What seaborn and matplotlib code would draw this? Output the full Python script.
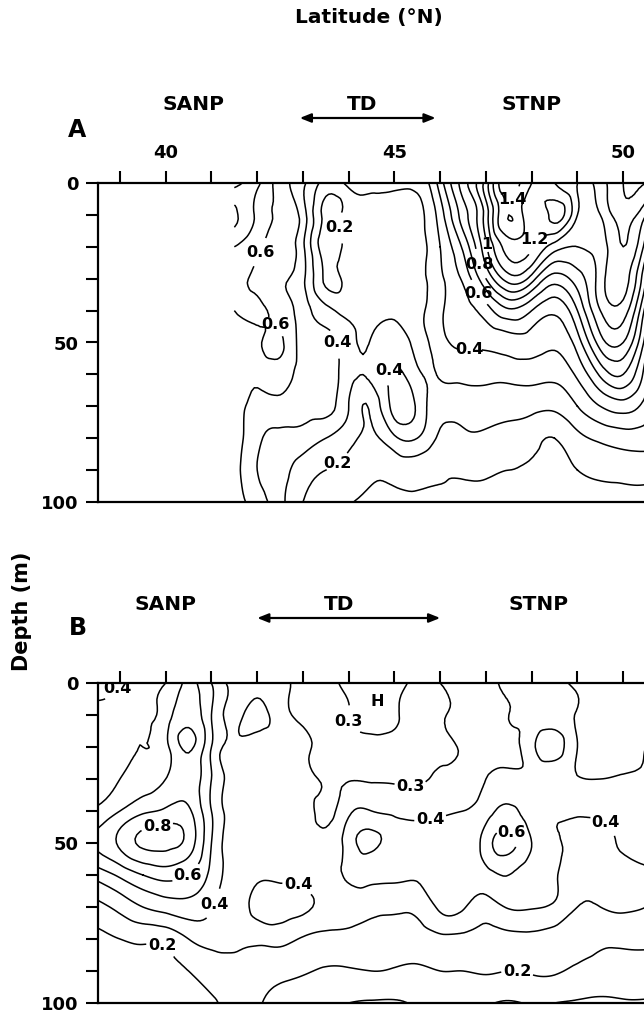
import numpy as np
import matplotlib
matplotlib.use("Agg")
import matplotlib.pyplot as plt
import matplotlib.tri as mtri
import seaborn as sns

# ---------------- data ----------------
depths = [0, 10, 20, 30, 40, 50, 60, 70, 80, 90, 100]

lat_a = [41.5, 42.0, 42.5, 43.0, 43.5, 44.0, 44.5, 45.0, 45.5, 46.0,
         46.5, 47.0, 47.5, 48.0, 48.5, 49.0, 49.5, 50.0, 50.5]
conc_a = [
    [0.65, 0.72, 0.55, 0.42, 0.26, 0.33, 0.34, 0.34, 0.33, 0.55, 0.85, 1.15, 1.48, 1.30, 1.20, 1.10, 1.15, 1.30, 1.30],
    [0.82, 0.68, 0.58, 0.45, 0.17, 0.25, 0.26, 0.26, 0.27, 0.45, 0.75, 1.05, 1.40, 1.22, 1.34, 1.10, 1.10, 1.25, 1.10],
    [0.70, 0.62, 0.55, 0.42, 0.15, 0.24, 0.25, 0.25, 0.26, 0.40, 0.62, 0.98, 1.25, 1.20, 1.05, 1.00, 1.05, 1.20, 0.95],
    [0.62, 0.58, 0.52, 0.42, 0.18, 0.25, 0.25, 0.25, 0.26, 0.38, 0.52, 0.80, 1.05, 0.95, 0.75, 0.85, 1.05, 1.15, 0.80],
    [0.60, 0.62, 0.56, 0.45, 0.33, 0.28, 0.26, 0.27, 0.27, 0.38, 0.47, 0.55, 0.68, 0.60, 0.52, 0.70, 1.00, 1.05, 0.65],
    [0.58, 0.58, 0.62, 0.46, 0.43, 0.34, 0.31, 0.37, 0.28, 0.36, 0.42, 0.42, 0.45, 0.45, 0.42, 0.55, 0.85, 0.90, 0.55],
    [0.58, 0.52, 0.55, 0.45, 0.44, 0.34, 0.32, 0.42, 0.32, 0.31, 0.33, 0.33, 0.33, 0.34, 0.33, 0.42, 0.62, 0.70, 0.45],
    [0.58, 0.46, 0.46, 0.43, 0.43, 0.30, 0.22, 0.44, 0.38, 0.24, 0.24, 0.25, 0.24, 0.23, 0.22, 0.30, 0.40, 0.45, 0.36],
    [0.56, 0.42, 0.38, 0.36, 0.30, 0.23, 0.18, 0.28, 0.30, 0.18, 0.18, 0.18, 0.16, 0.13, 0.10, 0.17, 0.22, 0.25, 0.25],
    [0.55, 0.40, 0.34, 0.25, 0.20, 0.17, 0.12, 0.13, 0.14, 0.11, 0.11, 0.11, 0.10, 0.09, 0.08, 0.10, 0.12, 0.13, 0.13],
    [0.55, 0.45, 0.33, 0.20, 0.16, 0.11, 0.08, 0.08, 0.08, 0.08, 0.09, 0.08, 0.09, 0.09, 0.07, 0.08, 0.07, 0.08, 0.09],
]

lat_b = [38.5, 39.0, 39.5, 40.0, 40.5, 41.0, 41.5, 42.0, 42.5, 43.0, 43.5, 44.0, 44.5,
         45.0, 45.5, 46.0, 46.5, 47.0, 47.5, 48.0, 48.5, 49.0, 49.5, 50.0, 50.5]
conc_b = [
    [0.38, 0.40, 0.45, 0.50, 0.62, 0.50, 0.36, 0.35, 0.33, 0.27, 0.27, 0.32, 0.34, 0.33, 0.28, 0.30, 0.35, 0.36, 0.42, 0.40, 0.42, 0.38, 0.36, 0.38, 0.37],
    [0.42, 0.44, 0.48, 0.55, 0.66, 0.50, 0.38, 0.42, 0.35, 0.27, 0.26, 0.30, 0.32, 0.31, 0.27, 0.29, 0.32, 0.36, 0.40, 0.42, 0.45, 0.39, 0.37, 0.38, 0.38],
    [0.44, 0.47, 0.50, 0.57, 0.72, 0.50, 0.37, 0.36, 0.34, 0.32, 0.27, 0.27, 0.28, 0.28, 0.27, 0.29, 0.31, 0.37, 0.38, 0.47, 0.55, 0.40, 0.38, 0.39, 0.40],
    [0.47, 0.50, 0.55, 0.60, 0.66, 0.50, 0.36, 0.35, 0.34, 0.34, 0.28, 0.29, 0.29, 0.29, 0.29, 0.31, 0.33, 0.40, 0.42, 0.42, 0.44, 0.41, 0.40, 0.41, 0.42],
    [0.52, 0.60, 0.68, 0.72, 0.72, 0.50, 0.36, 0.35, 0.35, 0.35, 0.27, 0.38, 0.40, 0.38, 0.37, 0.38, 0.40, 0.46, 0.52, 0.45, 0.42, 0.42, 0.42, 0.43, 0.43],
    [0.62, 0.72, 0.82, 0.83, 0.76, 0.50, 0.36, 0.36, 0.36, 0.36, 0.32, 0.45, 0.52, 0.45, 0.42, 0.43, 0.42, 0.55, 0.63, 0.50, 0.42, 0.36, 0.37, 0.41, 0.42],
    [0.44, 0.52, 0.60, 0.64, 0.60, 0.47, 0.36, 0.38, 0.38, 0.38, 0.36, 0.42, 0.43, 0.42, 0.41, 0.42, 0.41, 0.46, 0.50, 0.44, 0.41, 0.32, 0.33, 0.36, 0.38],
    [0.27, 0.33, 0.40, 0.44, 0.46, 0.41, 0.35, 0.43, 0.44, 0.42, 0.37, 0.35, 0.33, 0.32, 0.33, 0.42, 0.41, 0.36, 0.41, 0.41, 0.38, 0.30, 0.30, 0.32, 0.30],
    [0.17, 0.20, 0.22, 0.23, 0.30, 0.33, 0.32, 0.32, 0.33, 0.29, 0.27, 0.27, 0.26, 0.26, 0.26, 0.28, 0.28, 0.27, 0.28, 0.28, 0.27, 0.25, 0.22, 0.22, 0.22],
    [0.12, 0.13, 0.15, 0.17, 0.20, 0.25, 0.27, 0.25, 0.23, 0.21, 0.19, 0.19, 0.20, 0.19, 0.18, 0.20, 0.20, 0.21, 0.20, 0.21, 0.21, 0.18, 0.16, 0.16, 0.16],
    [0.11, 0.11, 0.12, 0.13, 0.15, 0.18, 0.24, 0.21, 0.17, 0.15, 0.12, 0.10, 0.09, 0.09, 0.11, 0.12, 0.12, 0.11, 0.09, 0.11, 0.10, 0.09, 0.08, 0.09, 0.09],
]

# contour levels: labelled and unlabelled sets
lab_levels_a = [0.2, 0.4, 0.6, 0.8, 1.0, 1.2, 1.4]
plain_levels_a = [0.1, 0.3, 0.5, 0.7, 0.9, 1.1, 1.3, 1.5]
lab_levels_b = [0.2, 0.3, 0.4, 0.6, 0.8]
plain_levels_b = [0.1, 0.5, 0.7, 0.9]

labels_a = [(43.7, 15), (42.0, 21), (42.4, 44), (43.8, 50), (45.0, 60),
            (46.65, 55), (43.86, 91), (47.55, 5), (47.1, 19), (47.9, 16),
            (46.8, 26), (46.7, 37)]
labels_b = [(39.05, 2.7), (39.86, 47.5), (40.49, 60.5), (41.3, 70.4),
            (39.95, 81), (42.83, 66), (44.0, 12), (45.35, 33.4), (45.8, 45.4),
            (47.47, 48), (49.86, 38.6), (47.7, 87.6)]

lat_ticks = [39, 40, 41, 42, 43, 44, 45, 46, 47, 48, 49, 50]
lat_ticklabels = ["", "40", "", "", "", "", "45", "", "", "", "", "50"]
zones = ["SANP", "TD", "STNP"]

# ---------------- style ----------------
sns.set_theme(style="ticks")
plt.rcParams["font.family"] = ["DejaVu Sans"]
plt.rcParams["font.weight"] = "bold"
plt.rcParams["axes.linewidth"] = 1.6
for key in ["text.color", "axes.labelcolor", "xtick.color", "ytick.color",
            "axes.edgecolor", "xtick.labelcolor", "ytick.labelcolor"]:
    plt.rcParams[key] = "black"

W, H = 644, 1014
fig = plt.figure(figsize=(W / 100, H / 100), dpi=100)

XL = (38.52, 50.55)
px_per_deg = 45.75
ax_w = (XL[1] - XL[0]) * px_per_deg
ax_a = fig.add_axes([98 / W, 1 - 502 / H, ax_w / W, 319 / H])
ax_b = fig.add_axes([98 / W, 1 - 1003 / H, ax_w / W, 320 / H])


def draw_panel(ax, lats, vals, plain_levels, lab_levels, lab_pos, show_xlabels):
    LA, DE = np.meshgrid(np.asarray(lats, float), np.asarray(depths, float))
    Z = np.asarray(vals, float)
    tri = mtri.Triangulation(LA.ravel(), DE.ravel() / 20.0)
    refiner = mtri.UniformTriRefiner(tri)
    tri_r, z_r = refiner.refine_field(Z.ravel(), subdiv=3)
    tri_plot = mtri.Triangulation(tri_r.x, tri_r.y * 20.0, tri_r.triangles)
    ax.tricontour(tri_plot, z_r, levels=plain_levels, colors="black", linewidths=1.1)
    cs = ax.tricontour(tri_plot, z_r, levels=lab_levels, colors="black", linewidths=1.1)
    txts = ax.clabel(cs, manual=lab_pos, inline=True, inline_spacing=2,
                     fontsize=11.5, fmt=lambda v: f"{v:g}")
    for t in txts:
        t.set_rotation(0)
        t.set_fontweight("bold")
        t.set_color("black")
    ax.set_xlim(*XL)
    ax.set_ylim(100, 0)
    ax.xaxis.tick_top()
    ax.set_xticks(lat_ticks)
    ax.set_xticklabels(lat_ticklabels if show_xlabels else [""] * len(lat_ticks))
    ax.set_yticks([0, 50, 100])
    ax.set_yticks(range(0, 101, 10), minor=True)
    ax.tick_params(axis="both", which="both", direction="out", length=9, width=1.5,
                   colors="black", labelsize=13, pad=5)
    ax.tick_params(axis="x", pad=6)
    for lab in ax.get_xticklabels() + ax.get_yticklabels():
        lab.set_fontweight("bold")
    ax.spines["right"].set_visible(False)
    ax.set_facecolor("white")
    return cs


draw_panel(ax_a, lat_a, conc_a, plain_levels_a, lab_levels_a, labels_a, True)
draw_panel(ax_b, lat_b, conc_b, plain_levels_b, lab_levels_b, labels_b, False)
ax_b.text(44.63, 5.8, "H", ha="center", va="center", fontsize=11.5, fontweight="bold")

# zone labels and arrows
for ax, zx, arrow, yt, ya in [
    (ax_a, [40.6, 44.3, 48.0], (42.93, 45.9), 1 + 78 / 319, 1 + 65 / 319),
    (ax_b, [40.0, 43.8, 48.15], (42.0, 46.0), 1 + 78 / 320, 1 + 65 / 320),
]:
    tr = ax.get_xaxis_transform()
    for name, x in zip(zones, zx):
        ax.text(x, yt, name, transform=tr, ha="center", va="center",
                fontsize=14.5, fontweight="bold", clip_on=False)
    ax.annotate("", xy=(arrow[1], ya), xytext=(arrow[0], ya), xycoords=tr,
                textcoords=tr, annotation_clip=False,
                arrowprops=dict(arrowstyle="<|-|>,head_length=0.55,head_width=0.22",
                                color="black", lw=1.6, shrinkA=0, shrinkB=0))

fig.text(77 / W, 1 - 130 / H, "A", ha="center", va="center", fontsize=17, fontweight="bold")
fig.text(78 / W, 1 - 628 / H, "B", ha="center", va="center", fontsize=17, fontweight="bold")
fig.text(369 / W, 1 - 18 / H, "Latitude (°N)", ha="center", va="center",
         fontsize=14.5, fontweight="bold")
fig.text(22 / W, 1 - 611 / H, "Depth (m)", ha="center", va="center",
         rotation=90, fontsize=15, fontweight="bold")

fig.savefig("out.png", dpi=100, facecolor="white")
